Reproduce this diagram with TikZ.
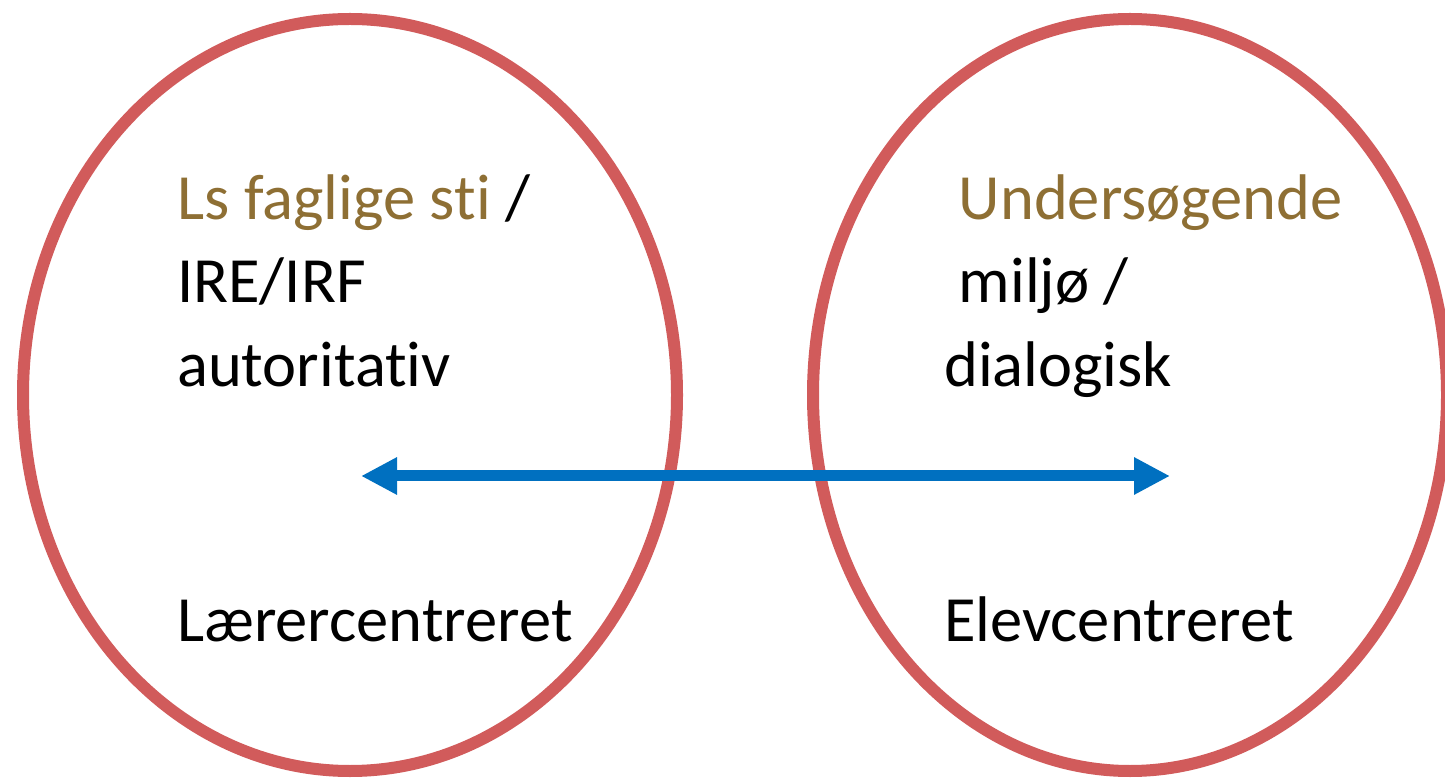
\documentclass[tikz,border=0pt]{standalone}
\usepackage{fontspec}
\setmainfont{Carlito}[Ligatures=NoCommon]
\usetikzlibrary{arrows.meta}
\definecolor{ringred}{RGB}{209,91,91}
\definecolor{arrowblue}{RGB}{0,112,192}
\definecolor{headbrown}{RGB}{142,111,52}

\begin{document}
\begin{tikzpicture}[x=1pt,y=1pt,
  every node/.style={font=\fontsize{64.5}{84}\selectfont,inner sep=0pt,anchor=base west},
  ring/.style={draw=ringred,line width=12pt},
  link/.style={draw=arrowblue,line width=11pt,
    {Triangle[length=36pt,width=35pt]}-{Triangle[length=36pt,width=35pt]}}]
\useasboundingbox (0,0) rectangle (1445,777);
% the two rings
\draw[ring] (350,382) ellipse [x radius=327,y radius=376];
\draw[ring] (1130,382) ellipse [x radius=317,y radius=376];
% left ring
\node (lsti) at (177,557) {\textcolor{headbrown}{Ls faglige sti} /};
\node (ire) at (177,474) {IRE/IRF};
\node (auto) at (177,390) {autoritativ};
\node (laerer) at (177,136) {Lærercentreret};
% right ring
\node (unders) at (944,557) {\textcolor{headbrown}{\ Undersøgende}};
\node (miljo) at (944,474) {\ miljø /};
\node (dialog) at (944,390) {dialogisk};
\node (elev) at (944,136) {Elevcentreret};
% double arrow between the rings
\coordinate (lt) at (361,301);
\coordinate (rt) at (1170,301);
\draw[link] (lt) -- (rt);
\end{tikzpicture}
\end{document}
